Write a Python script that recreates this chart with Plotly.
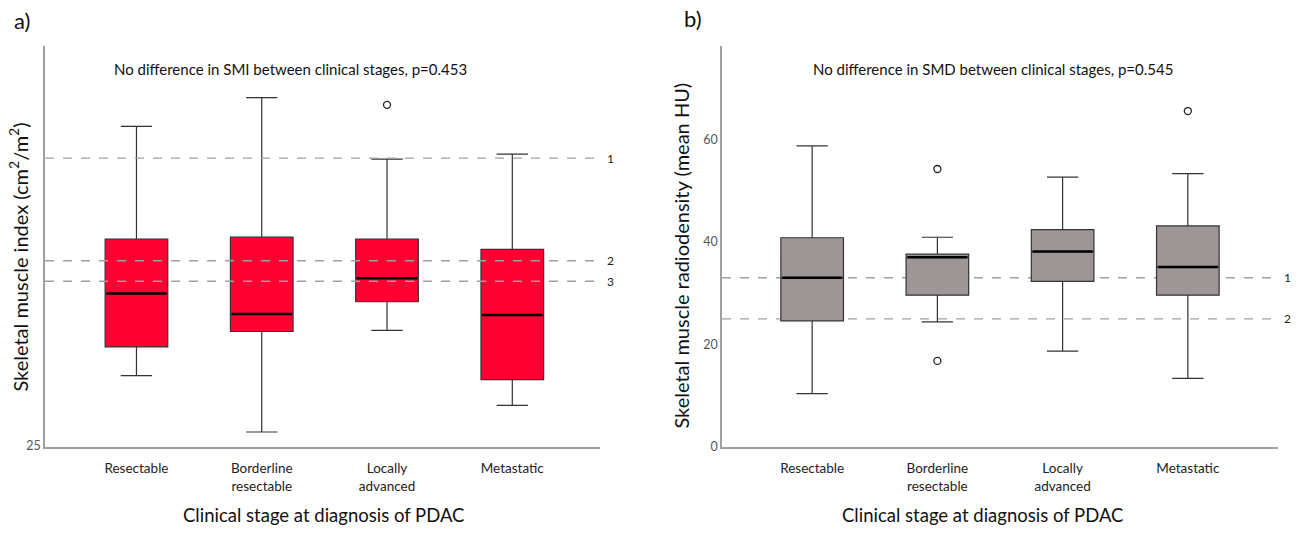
import plotly.graph_objects as go

# ---------------- data ----------------
categories = ["Resectable", "Borderline<br>resectable", "Locally<br>advanced", "Metastatic"]
cat_idx = [0, 1, 2, 3]

# Panel a) Skeletal muscle index (cm2/m2)
smi_lower = [31.8, 26.3, 36.2, 28.9]
smi_q1 = [34.6, 36.1, 39.0, 31.4]
smi_median = [39.8, 37.8, 41.3, 37.7]
smi_q3 = [45.1, 45.3, 45.1, 44.1]
smi_upper = [56.1, 58.9, 52.9, 53.4]
smi_out_x = [2]
smi_out_y = [58.2]
smi_cutoffs = [53, 43, 41]
smi_cutoff_labels = ["1", "2", "3"]

# Panel b) Skeletal muscle radiodensity (mean HU)
smd_lower = [10.4, 24.4, 18.7, 13.4]
smd_q1 = [24.6, 29.6, 32.3, 29.6]
smd_median = [33.0, 37.0, 38.1, 35.1]
smd_q3 = [40.8, 37.6, 42.4, 43.1]
smd_upper = [58.7, 40.9, 52.6, 53.3]
smd_out_x = [1, 1, 3]
smd_out_y = [54.2, 16.8, 65.5]
smd_cutoffs = [33, 25]
smd_cutoff_labels = ["1", "2"]

FONT = "Lato, Noto Sans, sans-serif"
W, H = 1301, 535
BOX_W = 0.5

def px_x(p):
    return p / W

def px_y(p):
    return (H - p) / H

fig = go.Figure()

def add_panel(xa, ya, lower, q1, med, q3, upper, out_x, out_y, fill):
    xref = "x" if xa == 1 else "x%d" % xa
    yref = "y" if ya == 1 else "y%d" % ya
    fig.add_trace(go.Box(
        x=cat_idx, q1=q1, median=med, q3=q3, lowerfence=lower, upperfence=upper,
        width=BOX_W, whiskerwidth=0.5, boxpoints=False,
        fillcolor=fill, line=dict(color="#333333", width=1.2),
        xaxis=xref, yaxis=yref, showlegend=False, hoverinfo="skip"))
    mx, my = [], []
    for i, m in zip(cat_idx, med):
        mx += [i - BOX_W / 2 + 0.01, i + BOX_W / 2 - 0.01, None]
        my += [m, m, None]
    fig.add_trace(go.Scatter(x=mx, y=my, mode="lines",
                             line=dict(color="#000000", width=2.5),
                             xaxis=xref, yaxis=yref, showlegend=False, hoverinfo="skip"))
    fig.add_trace(go.Scatter(x=out_x, y=out_y, mode="markers",
                             marker=dict(symbol="circle-open", size=7,
                                         color="#222222", line=dict(width=1.3)),
                             xaxis=xref, yaxis=yref, showlegend=False, hoverinfo="skip"))

add_panel(1, 1, smi_lower, smi_q1, smi_median, smi_q3, smi_upper, smi_out_x, smi_out_y, "#FF0033")
add_panel(2, 2, smd_lower, smd_q1, smd_median, smd_q3, smd_upper, smd_out_x, smd_out_y, "#9E9696")

# dashed cutoff lines + labels
for cut, lab in zip(smi_cutoffs, smi_cutoff_labels):
    fig.add_shape(type="line", xref="x domain", yref="y", x0=0, x1=1, y0=cut, y1=cut,
                  line=dict(color="#A0A0A0", width=1.3, dash="dash"), layer="above")
    fig.add_annotation(xref="paper", yref="y", x=px_x(610), y=cut, text=lab, showarrow=False,
                       xanchor="center", font=dict(family=FONT, size=12, color="#222"))
for cut, lab in zip(smd_cutoffs, smd_cutoff_labels):
    fig.add_shape(type="line", xref="x2 domain", yref="y2", x0=0, x1=1, y0=cut, y1=cut,
                  line=dict(color="#A0A0A0", width=1.3, dash="dash"), layer="below")
    fig.add_annotation(xref="paper", yref="y2", x=px_x(1287), y=cut, text=lab, showarrow=False,
                       xanchor="center", font=dict(family=FONT, size=12, color="#222"))

axis_common = dict(showline=True, linecolor="#A0A0A0", linewidth=1.5, showgrid=False,
                   zeroline=False, ticks="", mirror=False)

fig.update_layout(
    width=W, height=H, margin=dict(l=0, r=0, t=0, b=0),
    paper_bgcolor="white", plot_bgcolor="rgba(0,0,0,0)",
    font=dict(family=FONT, color="#222"),
    xaxis=dict(domain=[px_x(45), px_x(600)], range=[-0.73, 3.70], anchor="y",
               tickmode="array", tickvals=cat_idx, ticktext=categories,
               tickfont=dict(family=FONT, size=13.5, color="#222"), ticklabelstandoff=8,
               **axis_common),
    yaxis=dict(domain=[px_y(453), px_y(47)], range=[24.83, 63.9], anchor="x",
               tickmode="array", tickvals=[25], ticktext=["25"],
               tickfont=dict(family=FONT, size=12.5, color="#555"), **axis_common),
    xaxis2=dict(domain=[px_x(722), px_x(1278)], range=[-0.72, 3.72], anchor="y2",
                tickmode="array", tickvals=cat_idx, ticktext=categories,
                tickfont=dict(family=FONT, size=13.5, color="#222"), ticklabelstandoff=8,
                **axis_common),
    yaxis2=dict(domain=[px_y(453), px_y(47)], range=[0, 78.1], anchor="x2",
                tickmode="array", tickvals=[0, 20, 40, 60],
                tickfont=dict(family=FONT, size=12.5, color="#555"), **axis_common),
)

texts = [
    ("a)", 22, 21, 22, 0, "#111"),
    ("b)", 693, 19, 22, 0, "#111"),
    ("No difference in SMI between clinical stages, p=0.453", 290, 70, 15, 0, "#111"),
    ("No difference in SMD between clinical stages, p=0.545", 993, 70, 15, 0, "#111"),
    ("Clinical stage at diagnosis of PDAC", 323, 522, 18.5, 0, "#111"),
    ("Clinical stage at diagnosis of PDAC", 982, 522, 18.5, 0, "#111"),
    ("Skeletal muscle index (cm<sup>2</sup>/m<sup>2</sup>)", 18, 261, 20, -90, "#111"),
    ("Skeletal muscle radiodensity (mean HU)", 681, 259, 20, -90, "#111"),
]
for t, x, y, s, ang, c in texts:
    fig.add_annotation(xref="paper", yref="paper", x=px_x(x), y=px_y(y), text=t,
                       showarrow=False, xanchor="center", yanchor="middle", textangle=ang,
                       font=dict(family=FONT, size=s, color=c))

page_fix = (
    "var h=document.documentElement,b=document.body;"
    "h.style.margin='0';h.style.padding='0';h.style.overflow='hidden';"
    "b.style.margin='0';b.style.padding='0';b.style.overflow='hidden';"
)

fig.write_html("out.html", config={"displayModeBar": False}, post_script=page_fix)
